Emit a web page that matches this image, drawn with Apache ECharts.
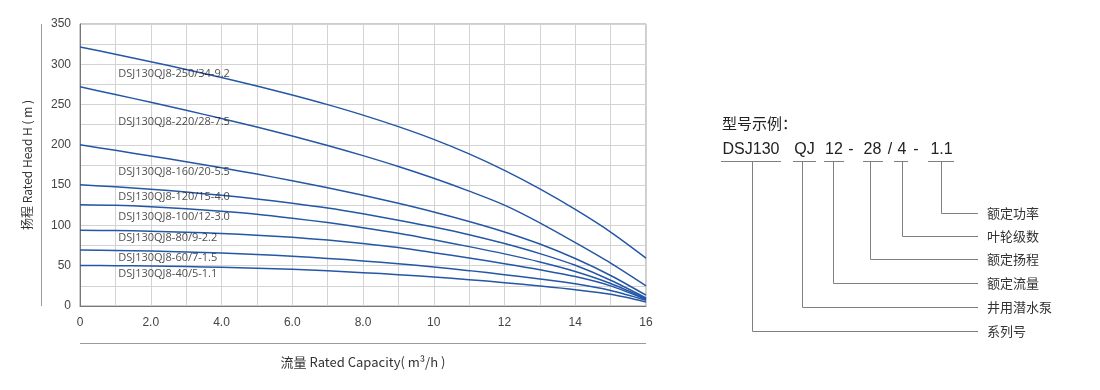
<!DOCTYPE html>
<html>
<head>
<meta charset="utf-8">
<script src="https://cdn.jsdelivr.net/npm/echarts@6/dist/echarts.min.js"></script>
<style>
html,body{margin:0;padding:0;background:#fff;}
#chart{width:1100px;height:390px;}
</style>
</head>
<body>
<div id="chart"></div>
<script>
// ---- data ----
const flow = [0,1,2,3,4,5,6,7,8,9,10,11,12,13,14,15,16];
const xTickLabels = ['0','2.0','4.0','6.0','8.0','10','12','14','16'];
const seriesNames = [
  'DSJ130QJ8-250/34-9.2',
  'DSJ130QJ8-220/28-7.5',
  'DSJ130QJ8-160/20-5.5',
  'DSJ130QJ8-120/15-4.0',
  'DSJ130QJ8-100/12-3.0',
  'DSJ130QJ8-80/9-2.2',
  'DSJ130QJ8-60/7-1.5',
  'DSJ130QJ8-40/5-1.1'
];
const head250 = [321.5,312.5,303.2,293.6,283.6,273.1,261.9,249.9,236.9,222.6,206.8,188.8,168.3,145.3,119.8,91.8,59.5];
const head220 = [272,262.5,252.8,242.9,232.7,222.1,211,199.2,186.6,173.1,158.5,142.6,125.2,103.2,78.7,53.2,25];
const head160 = [200,193.2,186.2,179,171.5,163.7,155.5,146.8,137.5,127.5,116.7,104.9,91.9,76.9,58.9,37.9,13.4];
const head120 = [150.4,147.9,144.9,141.4,137.4,132.8,127.6,121.7,114.5,106.5,98,88.5,77.5,65,50.5,32,10];
const head100 = [125.6,124.9,123.2,120.7,117.6,113.8,108.9,103.5,97.2,90.2,82.2,73.7,64.7,54.7,42.9,28,9];
const head80  = [94,93.6,92.8,91.6,90,87.9,85.2,81.8,77.6,72.6,66.2,59.5,52.5,45,36.5,25,8];
const head60  = [69.4,69,68.2,67.1,65.7,63.9,61.7,59.1,56,52.4,48.4,43.9,38.9,33.5,27.5,19.2,7.2];
const head40  = [50.4,50.1,49.6,48.9,48,46.9,45.5,43.6,41.4,38.9,36,32.7,29,24.9,20.3,14.5,5];
const heads = [head250, head220, head160, head120, head100, head80, head60, head40];
// label anchors (flow, head) for the curve names
const labelFlow = 1.08;
const labelHead = [288, 229, 166, 135.5, 110.7, 84, 59.5, 39.3];

// model example diagram texts
const modelParts = ['DSJ130','QJ','12','-','28','/','4','-','1.1'];
const partMeaning = ['额定功率','叶轮级数','额定扬程','额定流量','井用潜水泵','系列号'];

// ---- chart ----
const chart = echarts.init(document.getElementById('chart'));
const LINE_BLUE = '#2457a6';
const GRID_C = '#d3d3d3';
const cjk = '"Noto Sans CJK SC", "Liberation Sans", sans-serif';

const series = heads.map((h, i) => ({
  name: seriesNames[i],
  type: 'line',
  data: flow.map((q, k) => [q, h[k]]),
  smooth: 0.3,
  showSymbol: false,
  symbol: 'none',
  lineStyle: {color: LINE_BLUE, width: 1.5},
  z: 3,
  silent: true
}));
series.push({
  type: 'scatter',
  symbolSize: 0,
  data: seriesNames.map((n, i) => ({name: n, value: [labelFlow, labelHead[i]]})),
  label: {
    show: true,
    position: [0, 0],
    align: 'left',
    verticalAlign: 'middle',
    formatter: p => p.name,
    fontFamily: '"Open Sans", "Liberation Sans", sans-serif',
    fontSize: 11,
    color: '#222'
  },
  z: 4,
  silent: true
});

// diagram geometry (pixels)
const partCx = [751, 804.5, 834, 851, 872.5, 890, 902, 916, 941.5];
const underline = [[721,781],[793,816],[824,844],null,[863,883],null,[894,908],null,[928,954]];
const stemX = [940.7, 902.3, 870, 833.3, 801.7, 751.7];
const rowY = [212.7, 236, 259.3, 283.3, 306.7, 330.7];
const DG = '#808080';

const graphics = [];
graphics.push({type:'line', shape:{x1:41.5,y1:24,x2:41.5,y2:306}, style:{stroke:'#9a9a9a', lineWidth:1}, silent:true});
graphics.push({type:'line', shape:{x1:80,y1:343.5,x2:646,y2:343.5}, style:{stroke:'#9a9a9a', lineWidth:1}, silent:true});
graphics.push({type:'text', x:722, y:123, style:{text:'型号示例：', fontFamily:cjk, fontSize:15, fill:'#222', verticalAlign:'middle', align:'left'}});
modelParts.forEach((t, i) => {
  graphics.push({type:'text', x:partCx[i], y:150, style:{text:t, fontFamily:'"Liberation Sans", Arial, sans-serif', fontSize:16, fill:'#222', align:'center', verticalAlign:'middle'}});
  if (underline[i]) {
    graphics.push({type:'line', shape:{x1:underline[i][0], y1:161.5, x2:underline[i][1], y2:161.5}, style:{stroke:DG, lineWidth:1}, silent:true});
  }
});
partMeaning.forEach((t, i) => {
  graphics.push({type:'polyline', shape:{points:[[Math.round(stemX[i])+0.5,161.5],[Math.round(stemX[i])+0.5,Math.round(rowY[i])+0.5],[978,Math.round(rowY[i])+0.5]]}, style:{stroke:DG, lineWidth:1, fill:null}, silent:true});
  graphics.push({type:'text', x:987, y:rowY[i], style:{text:t, fontFamily:cjk, fontSize:13, fill:'#333', align:'left', verticalAlign:'middle'}});
});

chart.setOption({
  animation: false,
  backgroundColor: '#fff',
  grid: {left: 80, right: 454, top: 24, bottom: 84, show: true, borderColor: '#9a9a9a', borderWidth: 1, backgroundColor: 'transparent'},
  xAxis: {
    type: 'value', min: 0, max: 16, interval: 1,
    name: '流量 Rated Capacity( m³/h )',
    nameLocation: 'middle', nameGap: 50,
    nameTextStyle: {fontFamily: cjk, fontSize: 13, color: '#333'},
    axisLine: {show: true, lineStyle: {color: '#777', width: 1}},
    axisTick: {show: false},
    axisLabel: {
      margin: 11, fontFamily: '"Liberation Sans", Arial, sans-serif', fontSize: 12, color: '#444',
      formatter: v => (v % 2 === 0 ? xTickLabels[v / 2] : ''),
      showMinLabel: true, showMaxLabel: true, hideOverlap: false
    },
    splitLine: {show: true, lineStyle: {color: GRID_C, width: 1}}
  },
  yAxis: {
    type: 'value', min: 0, max: 350, interval: 25,
    name: '扬程 Rated Head H ( m )',
    nameLocation: 'middle', nameGap: 47, nameRotate: 90,
    nameTextStyle: {fontFamily: cjk, fontSize: 12, color: '#333'},
    axisLine: {show: true, lineStyle: {color: '#777', width: 1}},
    axisTick: {show: false},
    axisLabel: {
      margin: 9, fontFamily: '"Liberation Sans", Arial, sans-serif', fontSize: 12, color: '#444',
      formatter: v => (v % 50 === 0 ? String(v) : '')
    },
    splitLine: {show: true, lineStyle: {color: GRID_C, width: 1}}
  },
  series: series,
  graphic: graphics
});
</script>
</body>
</html>
